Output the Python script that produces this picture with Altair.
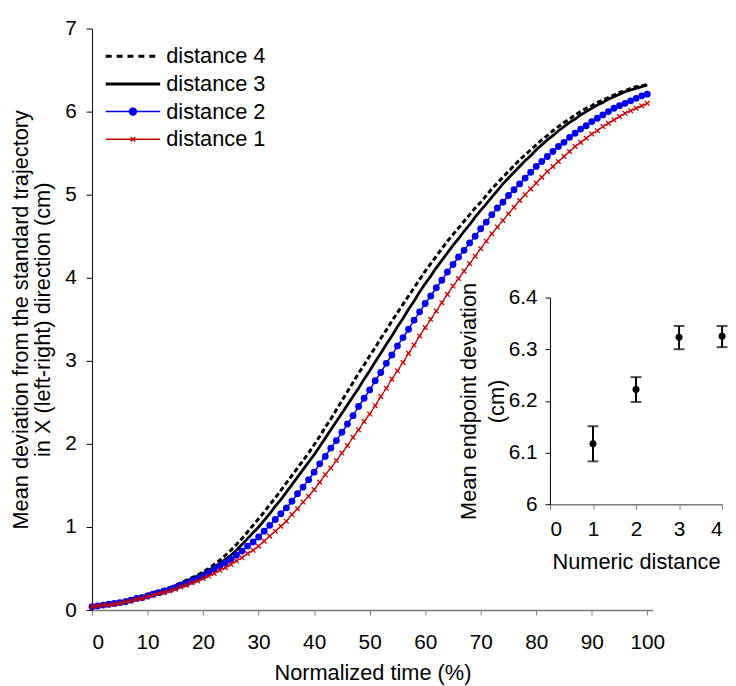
import altair as alt
import pandas as pd

# ---------------- data ----------------
time_pct = list(range(0, 101))

dist4 = [0.05,0.06,0.07,0.08,0.09,0.10,0.12,0.13,0.15,0.17,0.19,0.21,0.23,0.25,0.27,0.30,0.33,0.36,0.39,0.42,
         0.46,0.50,0.55,0.60,0.66,0.72,0.79,0.86,0.94,1.02,1.10,1.18,1.27,1.35,1.44,1.53,1.62,1.71,1.80,1.89,
         1.99,2.09,2.20,2.30,2.41,2.52,2.63,2.74,2.85,2.95,3.06,3.16,3.27,3.37,3.48,3.58,3.68,3.78,3.88,3.98,
         4.08,4.17,4.26,4.35,4.44,4.52,4.60,4.68,4.76,4.84,4.91,4.99,5.07,5.14,5.21,5.28,5.35,5.42,5.48,5.54,
         5.60,5.66,5.71,5.77,5.82,5.87,5.91,5.96,6.00,6.04,6.07,6.11,6.14,6.17,6.20,6.23,6.25,6.28,6.30,6.31,6.33]

dist3 = [0.05,0.06,0.07,0.08,0.09,0.10,0.11,0.13,0.15,0.16,0.18,0.20,0.22,0.24,0.26,0.29,0.32,0.35,0.38,0.41,
         0.44,0.48,0.52,0.56,0.61,0.66,0.72,0.79,0.86,0.93,1.00,1.08,1.16,1.25,1.33,1.42,1.51,1.60,1.69,1.78,
         1.87,1.97,2.07,2.17,2.27,2.37,2.47,2.57,2.67,2.78,2.88,2.99,3.09,3.20,3.30,3.41,3.51,3.62,3.72,3.83,
         3.93,4.02,4.12,4.21,4.30,4.39,4.47,4.56,4.64,4.73,4.81,4.89,4.97,5.05,5.13,5.20,5.27,5.34,5.41,5.47,
         5.54,5.60,5.66,5.71,5.77,5.82,5.87,5.91,5.96,6.00,6.04,6.08,6.11,6.15,6.18,6.21,6.24,6.26,6.28,6.30,6.32]

dist2 = [0.04,0.05,0.06,0.07,0.08,0.09,0.10,0.12,0.14,0.15,0.17,0.19,0.21,0.23,0.25,0.27,0.30,0.32,0.35,0.38,
         0.41,0.45,0.49,0.53,0.57,0.61,0.66,0.71,0.77,0.82,0.88,0.95,1.02,1.09,1.16,1.23,1.31,1.40,1.48,1.57,
         1.66,1.76,1.85,1.95,2.04,2.14,2.24,2.34,2.45,2.55,2.65,2.76,2.86,2.97,3.07,3.18,3.28,3.38,3.49,3.59,
         3.69,3.78,3.88,3.97,4.07,4.16,4.25,4.33,4.42,4.50,4.59,4.67,4.76,4.84,4.91,4.99,5.06,5.13,5.20,5.27,
         5.34,5.40,5.46,5.52,5.58,5.63,5.69,5.74,5.79,5.83,5.88,5.92,5.96,6.00,6.04,6.07,6.10,6.13,6.16,6.19,6.21]

dist1 = [0.04,0.05,0.06,0.06,0.07,0.08,0.10,0.11,0.13,0.14,0.16,0.18,0.20,0.21,0.23,0.25,0.28,0.30,0.33,0.35,
         0.38,0.41,0.44,0.48,0.51,0.55,0.59,0.63,0.68,0.72,0.77,0.83,0.89,0.95,1.01,1.07,1.15,1.22,1.30,1.37,
         1.45,1.54,1.63,1.71,1.80,1.89,1.98,2.08,2.17,2.27,2.36,2.46,2.57,2.67,2.78,2.88,2.98,3.09,3.19,3.30,
         3.40,3.50,3.60,3.70,3.80,3.90,3.99,4.08,4.17,4.26,4.35,4.44,4.53,4.61,4.69,4.77,4.85,4.93,5.00,5.07,
         5.14,5.21,5.28,5.34,5.40,5.46,5.52,5.58,5.63,5.68,5.73,5.77,5.82,5.86,5.90,5.94,5.98,6.01,6.04,6.07,6.10]

series_names = ["distance 4", "distance 3", "distance 2", "distance 1"]
series_colors = ["#000000", "#000000", "#0000ee", "#cc0000"]

inset_distance = [1, 2, 3, 4]
inset_mean = [6.117, 6.222, 6.323, 6.325]
inset_low = [6.083, 6.198, 6.300, 6.304]
inset_high = [6.151, 6.246, 6.345, 6.345]

x_ticks = list(range(0, 101, 10))
y_ticks = list(range(0, 8))
inset_x_ticks = [0, 1, 2, 3, 4]
inset_y_ticks = [6.0, 6.1, 6.2, 6.3, 6.4]

# ---------------- tables ----------------
rows = []
for name, vals in zip(series_names, [dist4, dist3, dist2, dist1]):
    for t, v in zip(time_pct, vals):
        rows.append({"time": t, "dev": v, "series": name})
df = pd.DataFrame(rows)

inset_df = pd.DataFrame({"d": inset_distance, "m": inset_mean,
                         "lo": inset_low, "hi": inset_high})

FONT = "Liberation Sans"
FS = 21      # tick labels
FT = 22      # titles and legend

# legend symbol shapes (unit box paths, widened line with marker)
DOT = ("M-1,0H5"
       "M2.38,0A0.38,0.38 0 1,1 1.62,0A0.38,0.38 0 1,1 2.38,0"
       "M2.25,0A0.25,0.25 0 1,1 1.75,0A0.25,0.25 0 1,1 2.25,0"
       "M2.12,0A0.12,0.12 0 1,1 1.88,0A0.12,0.12 0 1,1 2.12,0")
CROSS = "M-1,0H5M1.75,-0.25L2.25,0.25M1.75,0.25L2.25,-0.25"
LINE = "M-1,0H5"

legend = alt.Legend(
    title=None, orient="none", legendX=12, legendY=17, padding=0,
    labelFontSize=FT, labelFont=FONT, labelColor="black",
    symbolSize=336, labelOffset=41, rowPadding=6,
    symbolType={"expr": f"datum.value === 'distance 2' ? '{DOT}' : datum.value === 'distance 1' ? '{CROSS}' : '{LINE}'"},
    symbolDash={"expr": "datum.value === 'distance 4' ? [6,5] : [1,0]"},
    symbolStrokeWidth={"expr": "(datum.value === 'distance 2' || datum.value === 'distance 1') ? 1.5 : 3"},
)

color_enc = alt.Color("series:N", scale=alt.Scale(domain=series_names, range=series_colors),
                      legend=legend)

x_main = alt.X("time:Q", scale=alt.Scale(domain=[0, 101], nice=False, zero=False),
               axis=alt.Axis(values=x_ticks, title="Normalized time (%)", tickSize=5,
                             domainColor="#7a7a7a", tickColor="#7a7a7a", domainWidth=1.5,
                             labelPadding=17, titlePadding=10, labelFontSize=FS,
                             titleFontSize=FT, titleFontWeight="normal"))
y_main = alt.Y("dev:Q", scale=alt.Scale(domain=[0, 7], nice=False),
               axis=alt.Axis(values=y_ticks, title=["Mean deviation from the standard trajectory",
                                                    "in X (left-right) direction (cm)"],
                             tickSize=6, domainColor="black", tickColor="black",
                             labelPadding=10, titlePadding=10, labelFontSize=FS,
                             titleFontSize=FT, titleFontWeight="normal", titleLineHeight=23))

base = alt.Chart(df).encode(x=x_main, y=y_main)

l4 = base.transform_filter(alt.datum.series == "distance 4").mark_line(
    strokeWidth=3, strokeDash=[5, 3]).encode(color=color_enc)
l3 = base.transform_filter(alt.datum.series == "distance 3").mark_line(
    strokeWidth=2.8).encode(color=color_enc)
l2 = base.transform_filter(alt.datum.series == "distance 2").mark_line(
    strokeWidth=1.5).encode(color=color_enc)
p2 = base.transform_filter(alt.datum.series == "distance 2").mark_point(
    shape="circle", filled=True, size=48, color="#0000ee", opacity=1)
l1 = base.transform_filter(alt.datum.series == "distance 1").mark_line(
    strokeWidth=1.3).encode(color=color_enc)
p1 = base.transform_filter(alt.datum.series == "distance 1").mark_point(
    shape="M-1,-1L1,1M-1,1L1,-1", filled=False, size=22, strokeWidth=1.3,
    color="#cc0000", opacity=1)

main = alt.layer(l4, l3, l2, p2, l1, p1)

# ---------------- inset ----------------
ix_scale = alt.Scale(domain=[0, 4], range=[463, 637], nice=False, zero=False)
iy_scale = alt.Scale(domain=[6.0, 6.4], range=[481, 272], nice=False, zero=False)
ix_axis = alt.Axis(orient="bottom", offset=-107, values=inset_x_ticks, title="Numeric distance",
                   tickSize=5, domainColor="#7a7a7a", tickColor="#7a7a7a", domainWidth=1.5,
                   labelPadding=10, titlePadding=12, labelFontSize=FS, titleFontSize=FT,
                   titleFontWeight="normal", format="d")
iy_axis = alt.Axis(orient="left", offset=-463, values=inset_y_ticks,
                   title=["Mean endpoint deviation", "(cm)"], tickSize=5,
                   domainColor="black", tickColor="black", labelPadding=8, titlePadding=0,
                   labelFontSize=FS, titleFontSize=FT, titleFontWeight="normal",
                   titleLineHeight=28, format=".1~f")

ibase = alt.Chart(inset_df)
ix = alt.X("d:Q", scale=ix_scale, axis=ix_axis)
bars = ibase.mark_rule(color="black", strokeWidth=2).encode(
    x=ix, y=alt.Y("lo:Q", scale=iy_scale, axis=iy_axis), y2="hi:Q")
cap_lo = ibase.mark_tick(orient="horizontal", size=11, thickness=2, color="black").encode(
    x=ix, y=alt.Y("lo:Q", scale=iy_scale, axis=iy_axis))
cap_hi = ibase.mark_tick(orient="horizontal", size=11, thickness=2, color="black").encode(
    x=ix, y=alt.Y("hi:Q", scale=iy_scale, axis=iy_axis))
pts = ibase.mark_point(shape="circle", filled=True, size=50, color="black", opacity=1).encode(
    x=ix, y=alt.Y("m:Q", scale=iy_scale, axis=iy_axis))

inset = alt.layer(bars, cap_lo, cap_hi, pts)

chart = alt.layer(main, inset).resolve_scale(x="independent", y="independent").properties(
    width=567, height=588,
    padding={"left": 85, "top": 17, "right": 76, "bottom": 73},
    autosize=alt.AutoSizeParams(type="none"),
    background="white",
).configure_view(stroke=None).configure_axis(
    grid=False, labelFont=FONT, titleFont=FONT, labelColor="black", titleColor="black"
).configure_legend(labelFont=FONT)

chart.save("out.html", embed_options={"renderer": "svg", "actions": False})
